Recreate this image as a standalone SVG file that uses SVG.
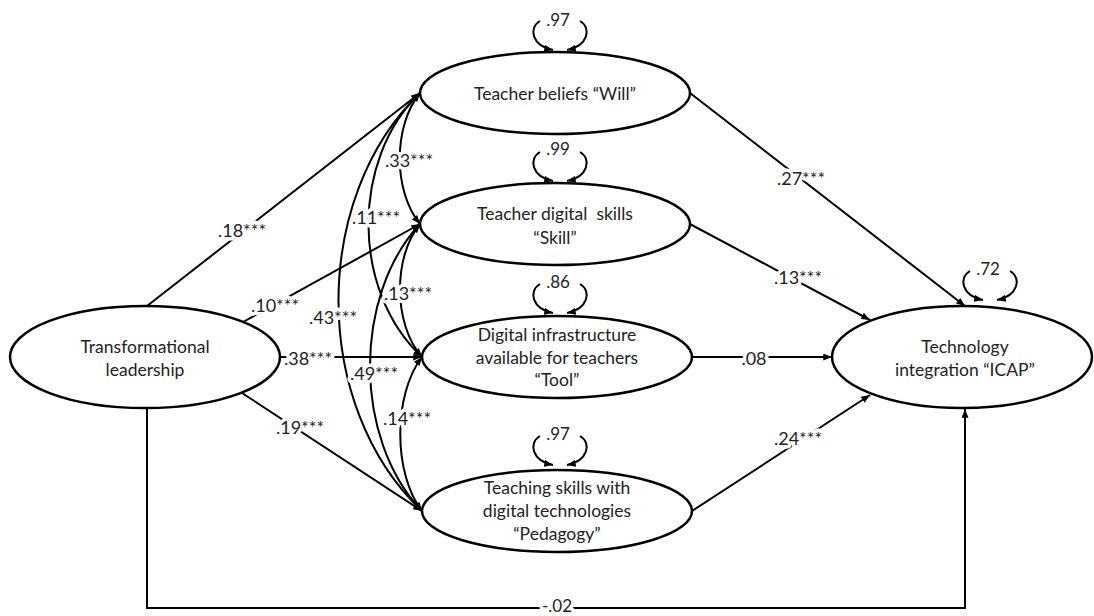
<svg xmlns="http://www.w3.org/2000/svg" width="1094" height="616" viewBox="0 0 1094 616">
<style>
.node ellipse{fill:#fff;stroke:#000;stroke-width:2.5}
.node text{font-family:Lato,"Open Sans","Liberation Sans",sans-serif;font-size:17.5px;fill:#222;text-anchor:middle}
.edge{fill:none;stroke:#000;stroke-width:2;marker-end:url(#ah)}
.cov{fill:none;stroke:#000;stroke-width:2;marker-end:url(#ah);marker-start:url(#ah)}
.lbl{font-family:Lato,"Open Sans","Liberation Sans",sans-serif;font-size:18px;fill:#222;text-anchor:middle;stroke:#fff;stroke-width:7;paint-order:stroke;stroke-linejoin:round}
.loopl{font-family:Lato,"Open Sans","Liberation Sans",sans-serif;font-size:17px;fill:#222;text-anchor:middle}
</style>
<defs>
<marker id="ah" viewBox="0 0 10 8" refX="10" refY="4" markerWidth="9" markerHeight="7" markerUnits="userSpaceOnUse" orient="auto-start-reverse">
<path d="M0,0 L10,4 L0,8 z" fill="#000"/>
</marker>
</defs>
<rect width="1094" height="616" fill="#fff"/>
<g id="connectors">
<path class="edge" d="M147,306 L420,93"/>
<path class="edge" d="M243,322 L420,224"/>
<path class="edge" d="M280,357 L422,357"/>
<path class="edge" d="M242,393 L422,511"/>
<path class="edge" d="M147,408 V608 H965 V409"/>
<path class="edge" d="M690,93 L965,306"/>
<path class="edge" d="M688,223 L870,320"/>
<path class="edge" d="M693,357 L832,357"/>
<path class="edge" d="M692,511 L870,395"/>
<path class="cov" d="M420,93 C393,126 393,191 420,224"/>
<path class="cov" d="M420,224 C393,257 393,324 422,357"/>
<path class="cov" d="M422,357 C393,395 393,473 422,511"/>
<path class="cov" d="M420,93 C351,159 351,291 422,357"/>
<path class="cov" d="M420,224 C353,296 353,439 422,511"/>
<path class="cov" d="M420,93 C311,198 311,406 422,511"/>
<text class="lbl" x="242" y="237">.18***</text>
<text class="lbl" x="275" y="312">.10***</text>
<text class="lbl" x="308" y="365">.38***</text>
<text class="lbl" x="300" y="434">.19***</text>
<text class="lbl" x="409" y="167">.33***</text>
<text class="lbl" x="376" y="224">.11***</text>
<text class="lbl" x="408" y="300">.13***</text>
<text class="lbl" x="333" y="324">.43***</text>
<text class="lbl" x="374" y="380">.49***</text>
<text class="lbl" x="407" y="425">.14***</text>
<text class="lbl" x="801" y="185">.27***</text>
<text class="lbl" x="798" y="284">.13***</text>
<text class="lbl" x="754" y="365">.08</text>
<text class="lbl" x="798" y="445">.24***</text>
<text class="lbl" x="557" y="612" style="font-size:17px">-.02</text>
</g>
<g id="loops">
<path class="edge" d="M540,21 C528,28 532,46 553,50"/>
<path class="edge" d="M580,21 C592,28 588,46 567,50"/>
<text class="loopl" x="558" y="26">.97</text>
<path class="edge" d="M540,152 C528,159 532,177 553,181"/>
<path class="edge" d="M580,152 C592,159 588,177 567,181"/>
<text class="loopl" x="558" y="155">.99</text>
<path class="edge" d="M540,284 C528,291 532,309 553,313"/>
<path class="edge" d="M580,284 C592,291 588,309 567,313"/>
<text class="loopl" x="558" y="288">.86</text>
<path class="edge" d="M540,436 C528,443 532,461 553,465"/>
<path class="edge" d="M580,436 C592,443 588,461 567,465"/>
<text class="loopl" x="558" y="440">.97</text>
<path class="edge" d="M970,271 C958,278 962,296 983,300"/>
<path class="edge" d="M1010,271 C1022,278 1018,296 997,300"/>
<text class="loopl" x="988" y="275">.72</text>
</g>
<g id="n_tl" class="node">
<ellipse cx="145" cy="357" rx="135" ry="51"/>
<text x="145" y="353">Transformational</text>
<text x="145" y="376">leadership</text>
</g>
<g id="n_will" class="node">
<ellipse cx="555" cy="93" rx="135" ry="41"/>
<text x="555" y="100">Teacher beliefs “Will”</text>
</g>
<g id="n_skill" class="node">
<ellipse cx="555" cy="224" rx="135" ry="41"/>
<text x="555" y="220" xml:space="preserve">Teacher digital  skills</text>
<text x="555" y="244">“Skill”</text>
</g>
<g id="n_tool" class="node">
<ellipse cx="557" cy="357" rx="135" ry="41"/>
<text x="557" y="341">Digital infrastructure</text>
<text x="557" y="364">available for teachers</text>
<text x="557" y="386">“Tool”</text>
</g>
<g id="n_ped" class="node">
<ellipse cx="557" cy="511" rx="135" ry="41"/>
<text x="557" y="494">Teaching skills with</text>
<text x="557" y="517">digital technologies</text>
<text x="557" y="540">“Pedagogy”</text>
</g>
<g id="n_icap" class="node">
<ellipse cx="962" cy="357" rx="130" ry="51"/>
<text x="965" y="353">Technology</text>
<text x="965" y="376">integration “ICAP”</text>
</g>
</svg>
